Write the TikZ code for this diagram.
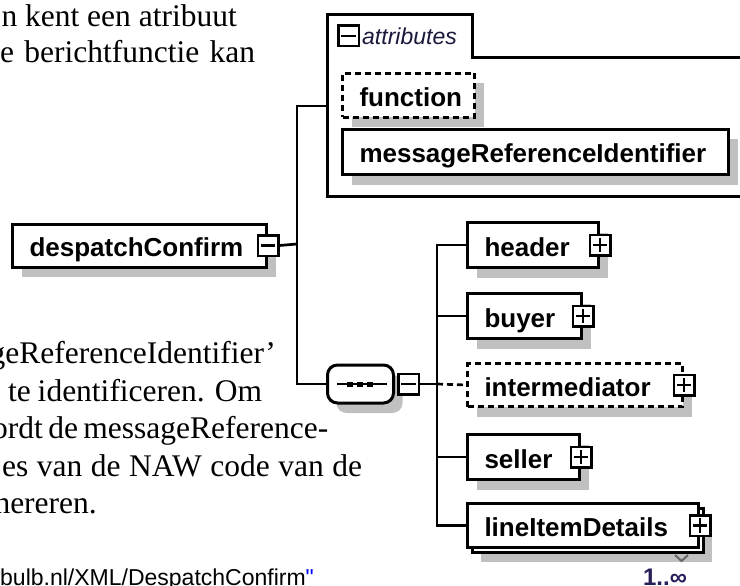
\documentclass[tikz,border=0pt]{standalone}
\usepackage{fontspec}
\setmainfont{Liberation Serif}
\newfontfamily\xsans{Liberation Sans}
\usetikzlibrary{shadows}
\definecolor{shadowgray}{RGB}{192,192,192}
\definecolor{urlblue}{RGB}{0,0,255}
\definecolor{attrtext}{RGB}{25,25,60}
\definecolor{multcol}{RGB}{40,30,90}
\newcommand{\xlbl}{\xsans\bfseries\fontsize{26}{30}\selectfont}
\newcommand{\xtxt}{\fontsize{31.5}{36}\selectfont}
\newcommand{\xjust}[2]{\makebox[#1][s]{#2}}
\begin{document}
\begin{tikzpicture}[x=1pt,y=-1pt,
  shade/.style={drop shadow={shadow xshift=9pt,shadow yshift=-10pt,fill=shadowgray,opacity=1}},
  elembase/.style={draw, line width=3pt, fill=white, anchor=north west, inner xsep=17pt, inner ysep=0pt, align=left, font=\xlbl, text height=24pt, text depth=2pt},
  elem/.style={elembase, shade},
  optional/.style={dash pattern=on 6pt off 4pt},
  pmbox/.style={draw, fill=white, line width=2.5pt, minimum width=20.5pt, minimum height=20.5pt, inner sep=0pt},
  minusbox/.style={pmbox, path picture={\draw[line width=2.5pt] ([xshift=3pt]path picture bounding box.west) -- ([xshift=-3pt]path picture bounding box.east);}},
  plusbox/.style={pmbox, path picture={\draw[line width=2.5pt] ([xshift=3pt]path picture bounding box.west) -- ([xshift=-3pt]path picture bounding box.east); \draw[line width=2.5pt] ([yshift=-3pt]path picture bounding box.north) -- ([yshift=3pt]path picture bounding box.south);}},
  conn/.style={line width=2.7pt},
  prose/.style={font=\xtxt, inner sep=0pt, anchor=base east},
  prosel/.style={font=\xtxt, inner sep=0pt, anchor=base west},
]
\useasboundingbox (0,0) rectangle (740,586);
\fill[white] (0,0) rectangle (740,586);
\clip (0,0) rectangle (740,586);

% prose text (justified lines)
\node[prose] (p1) at (237,27) {n kent een atribuut};
\node[prosel] (p2) at (0,63) {\xjust{255pt}{e berichtfunctie kan}};
\node[prose] (p3) at (276,363) {geReferenceIdentifier’};
\node[prosel] (p4) at (8,401) {\xjust{254pt}{te identificeren. Om}};
\node[prosel] (p5) at (-8,438) {\xjust{336pt}{ordt de messageReference-}};
\node[prosel] (p6) at (2,476) {\xjust{360pt}{es van de NAW code van de}};
\node[prose] (p7) at (97,513) {nereren.};
\node[anchor=base west, inner sep=0pt, font=\xsans\fontsize{23}{26}\selectfont] (url) at (0,585) {bulb.nl/XML/DespatchConfirm\textcolor{urlblue}{"}};

% root element
\node[elem, text width=220pt, minimum height=43pt] (dcm) at (11,222.5) {despatchConfirm};
\node[minusbox] (dcmm) at (dcm.east) {};

% attributes group
\draw[line width=3pt] (750,58) -- (472,58) -- (472,15) -- (327,15) -- (327,196) -- (750,196);
\node[minusbox] (attrm) at (348.5,36) {};
\node[anchor=west, font=\xsans\itshape\fontsize{23}{26}\selectfont, inner sep=0pt, text=attrtext] (attrl) at (362,36) {attributes};
\node[elem, optional, text width=98pt, minimum height=44pt] (fn) at (341,72) {function};
\node[elem, text width=352pt, minimum height=45pt] (mri) at (341,128) {messageReferenceIdentifier};

% sequence compositor
\node[draw, line width=3pt, fill=white, rounded corners=10pt, minimum width=66pt, minimum height=38pt, shade] (seq) at (360.5,384) {};
\draw[line width=2.5pt] ([xshift=-23.5pt]seq.center) -- ([xshift=26.5pt]seq.center);
\foreach \dx in {-10.5,-0.5,9.5}
  \fill ([shift={(\dx-3,-2.5)}]seq.center) rectangle ([shift={(\dx+3,2.5)}]seq.center);
\node[minusbox, anchor=west] (seqm) at ([xshift=2pt]seq.east) {};

% children
\node[elem, text width=97pt, minimum height=45pt] (hdr) at (466,221) {header};
\node[plusbox] (hdrp) at (hdr.east) {};
\node[elem, text width=80pt, minimum height=45pt] (buy) at (466,292) {buyer};
\node[plusbox] (buyp) at (buy.east) {};
\node[elem, optional, text width=181pt, minimum height=43pt] (int) at (466,362) {intermediator};
\node[plusbox] (intp) at (int.east) {};
\node[elem, text width=78pt, minimum height=45pt] (sel) at (466,433) {seller};
\node[plusbox] (selp) at (sel.east) {};

% repeated element (stacked)
\fill[shadowgray] (481,518) rectangle (712,562);
\draw[line width=3pt, fill=white] (472,508) rectangle (703,552);
\draw[black!60, line width=2pt] (675,555) -- (681.5,561) -- (688,555);
\node[elembase, text width=197pt, minimum height=44pt] (lid) at (466,502) {lineItemDetails};
\node[plusbox] (lidp) at (lid.east) {};
\node[anchor=base, inner sep=0pt, font=\xsans\bfseries\fontsize{24}{26}\selectfont, text=multcol] (mult) at (665,585) {1..∞};

% connectors
\coordinate (busL) at (297,244);
\coordinate (attrin) at (327,106);
\coordinate (busR) at (437,384);
\draw[conn] (dcmm.east) -- (busL);
\draw[conn] (attrin) -| (busL) |- (seq.west);
\draw[conn] (seqm.east) -- (busR);
\draw[conn, line cap=rect] (busR |- hdr.west) -- (busR |- lid.west);
\draw[conn] (busR |- hdr.west) -- (hdr.west);
\draw[conn] (busR |- buy.west) -- (buy.west);
\draw[conn, optional] (busR) -- (int.west);
\draw[conn] (busR |- sel.west) -- (sel.west);
\draw[conn] (busR |- lid.west) -- (lid.west);
\end{tikzpicture}
\end{document}
